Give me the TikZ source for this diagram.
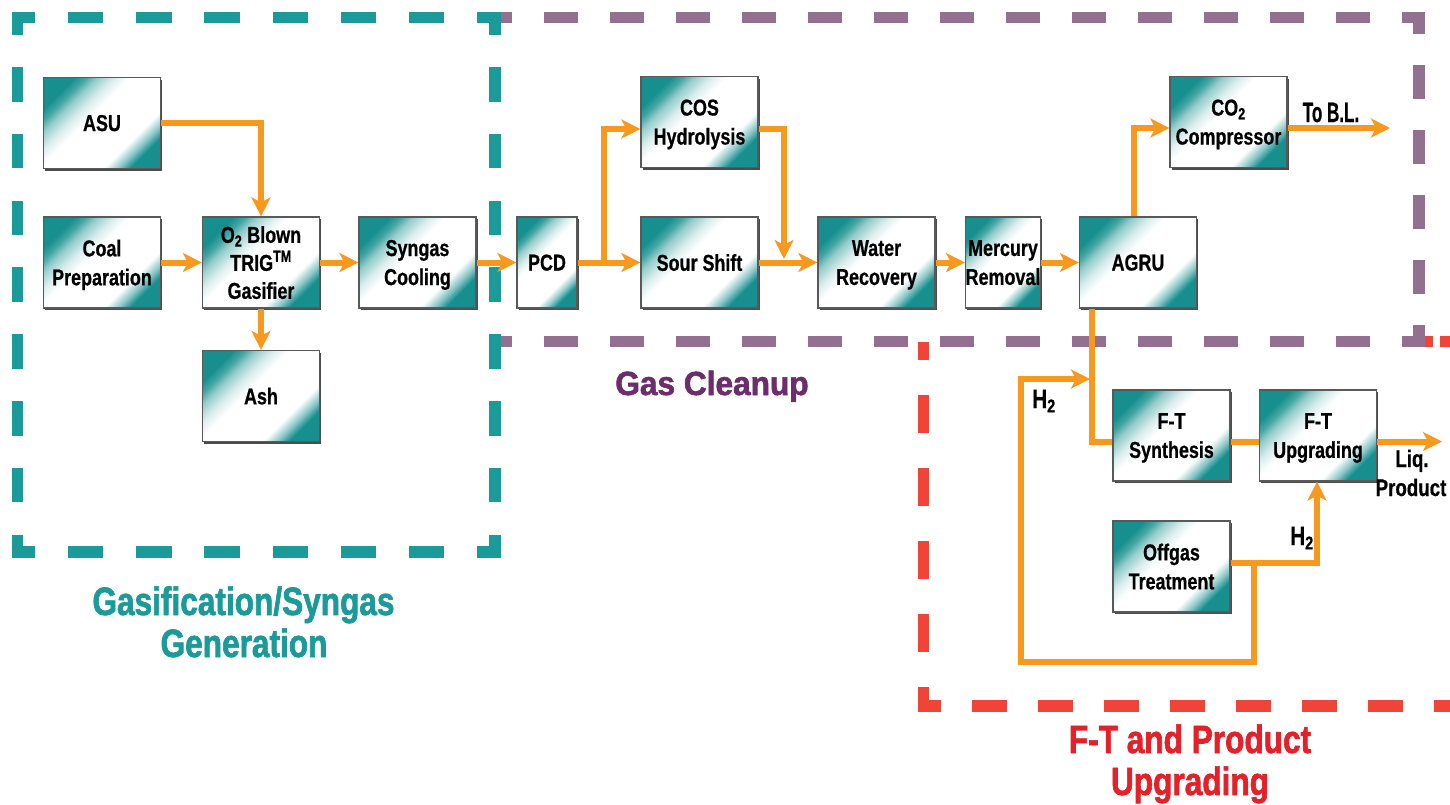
\documentclass[tikz,border=0pt]{standalone}
\usepackage{fontspec}
\setmainfont{Liberation Sans}
\newfontfamily\fA{Liberation Sans}[FakeStretch=0.78, FakeBold=0.6]
\newfontfamily\fB{Liberation Sans}[FakeStretch=0.8, FakeBold=1.6]
\usetikzlibrary{arrows.meta,shadows,calc}
\definecolor{tealc}{HTML}{168F8E}
\definecolor{orng}{HTML}{F7981F}
\definecolor{tealline}{HTML}{1A9A98}
\definecolor{purpline}{HTML}{937090}
\definecolor{purptext}{HTML}{6B2D6B}
\definecolor{redline}{HTML}{EF4437}
\definecolor{redtext}{HTML}{E42129}
\pgfdeclarehorizontalshading{boxsh}{100bp}{color(0bp)=(tealc); color(25bp)=(tealc); color(29bp)=(tealc!80); color(33bp)=(tealc!45); color(39bp)=(tealc!15); color(44bp)=(white); color(66bp)=(white); color(71bp)=(tealc!50); color(75bp)=(tealc); color(100bp)=(tealc)}
\begin{document}
\begin{tikzpicture}[x=1pt,y=-1pt,
  box/.style={draw=black!65, line width=1.2pt, shade, shading=boxsh, shading angle=-45,
    minimum width=117pt, minimum height=91pt, inner sep=0pt, align=center, text depth=0pt,
    font=\fA\bfseries\fontsize{23}{29}\selectfont,
    drop shadow={shadow xshift=1.5pt, shadow yshift=-2pt, fill=black!70, opacity=1}},
  arr/.style={draw=orng, line width=6pt, -{Stealth[length=19pt,width=19pt,inset=5pt]}},
  ln/.style={draw=orng, line width=6pt},
  dl/.style={line width=11.5pt, line cap=rect},
  tsm/.style={font=\fA\bfseries\fontsize{24}{29}\selectfont, inner sep=0pt, anchor=base},
  big/.style={font=\fB\bfseries\fontsize{39.5}{42}\selectfont, inner sep=0pt, anchor=base}
]
\useasboundingbox (0,0) rectangle (1450,804);
% ---- dashed regions
\draw[dl, draw=redline, dash pattern=on 26.4pt off 46.5pt, dash phase=13.2pt] (923.5,706) -- (923.5,347.5);
\draw[dl, draw=redline, dash pattern=on 22.8pt off 43.2pt, dash phase=11.4pt] (923.5,706) -- (1480,706);
\draw[line width=11.5pt, draw=redline, dash pattern=on 14pt off 7pt on 60pt off 10pt] (1419,341.5) -- (1480,341.5);
\draw[dl, draw=purpline, dash pattern=on 22.8pt off 43.2pt, dash phase=11.4pt] (495,17.5) -- (1419,17.5);
\draw[dl, draw=purpline, dash pattern=on 22.2pt off 42.6pt, dash phase=11.1pt] (1419,17.5) -- (1419,341.5);
\draw[dl, draw=purpline, dash pattern=on 22.8pt off 43.2pt, dash phase=11.4pt] (495,341.5) -- (1419,341.5);
\draw[dl, draw=tealline, dash pattern=on 24pt off 44.2pt, dash phase=12pt] (17.5,17.5) -- (495,17.5);
\draw[dl, draw=tealline, dash pattern=on 24pt off 44.2pt, dash phase=12pt] (17.5,552) -- (495,552);
\draw[dl, draw=tealline, dash pattern=on 23.2pt off 43.6pt, dash phase=11.6pt] (17.5,17.5) -- (17.5,552);
\draw[dl, draw=tealline, dash pattern=on 23.2pt off 43.6pt, dash phase=11.6pt] (495,17.5) -- (495,552);
% ---- region labels
\node[big, text=tealline] (lg1) at (243.5,615) {Gasification/Syngas};
\node[big, text=tealline] (lg2) at (244,657) {Generation};
\node[big, text=purptext, font=\fB\bfseries\fontsize{33.5}{40}\selectfont] (lgc) at (712,395) {\scalebox{1.18}[1]{Gas Cleanup}};
\node[big, text=redtext] (lf1) at (1190,753) {F-T and Product};
\node[big, text=redtext] (lf2) at (1190,795) {Upgrading};
% ---- boxes
\node[box] (asu) at (102,123) {ASU};
\node[box] (coal) at (102,262.5) {Coal\\Preparation};
\node[box, font=\fA\bfseries\fontsize{23}{28}\selectfont] (gas) at (261,262.5) {O\textsubscript{2} Blown\\TRIG\textsuperscript{TM}\\Gasifier};
\node[box] (ash) at (261,396) {Ash};
\node[box] (syn) at (417.5,262.5) {Syngas\\Cooling};
\node[box, minimum width=60pt] (pcd) at (547,262.5) {PCD};
\node[box] (cos) at (699.5,122) {COS\\Hydrolysis};
\node[box] (sour) at (699.5,262.5) {Sour Shift};
\node[box] (water) at (876.5,262.5) {Water\\Recovery};
\node[box, minimum width=74pt] (merc) at (1003,262.5) {Mercury\\Removal};
\node[box] (agru) at (1138,262.5) {AGRU};
\node[box] (co2) at (1228.5,122) {CO\textsubscript{2}\\Compressor};
\node[box] (fts) at (1171.5,435.5) {F-T\\Synthesis};
\node[box] (ftu) at (1318,435.5) {F-T\\Upgrading};
\node[box] (off) at (1171.5,566.5) {Offgas\\Treatment};
% ---- connectors
\draw[arr] (asu.east) -| (gas.north);
\draw[arr] (coal.east) -- (gas.west);
\draw[arr] (gas.east) -- (syn.west);
\draw[arr] (gas.south) -- (ash.north);
\draw[arr] (syn.east) -- (pcd.west);
\draw[arr] (pcd.east) -- (sour.west);
\coordinate (br1) at (603.5,262.5);
\draw[arr] (br1) |- ($(cos.west)+(0,7)$);
\coordinate (j1) at (784,259);
\draw[arr] ($(cos.east)+(0,7)$) -| (j1);
\draw[arr] (sour.east) -- (water.west);
\draw[arr] (water.east) -- (merc.west);
\draw[arr] (merc.east) -- (agru.west);
\draw[arr] ($(agru.north)+(-4.5,0)$) |- ($(co2.west)+(0,6)$);
\coordinate (tbl) at (1390,128);
\draw[arr] ($(co2.east)+(0,6)$) -- (tbl);
\draw[ln] ($(agru.south)+(-46,0)$) |- ($(fts.west)+(0,6)$);
\draw[ln] ($(fts.east)+(0,6)$) -- ($(ftu.west)+(0,6)$);
\coordinate (liq) at (1442,441.5);
\draw[arr] ($(ftu.east)+(0,6)$) -- (liq);
\draw[arr] ($(off.east)+(0,-3.5)$) -| ($(ftu.south)+(-1,0)$);
\coordinate (ob) at (1254,563);
\coordinate (rc1) at (1254,662);
\coordinate (rc2) at (1020.5,379);
\coordinate (h2tip) at (1090,379);
\draw[arr] (ob) -- (rc1) -| (rc2) -- (h2tip);
% ---- small labels
\node[tsm, font=\fA\bfseries\fontsize{28}{30}\selectfont] (tobl) at (1331,122) {\scalebox{0.78}[1]{To B.L.}};
\node[tsm] (liq1) at (1412,467) {Liq.};
\node[tsm] (liq2) at (1411,496) {Product};
\node[tsm, font=\fA\bfseries\fontsize{26.5}{30}\selectfont] (h2a) at (1044,408) {H\textsubscript{2}};
\node[tsm, font=\fA\bfseries\fontsize{26.5}{30}\selectfont] (h2b) at (1302,545) {H\textsubscript{2}};
\end{tikzpicture}
\end{document}
